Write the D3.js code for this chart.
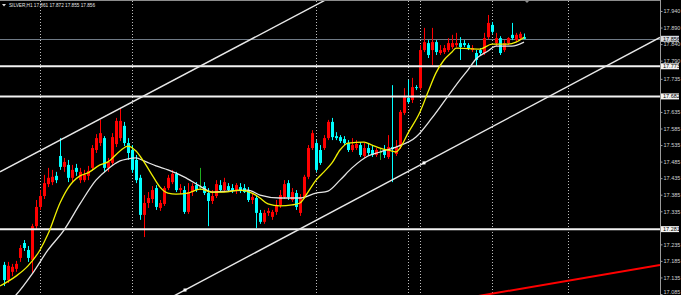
<!DOCTYPE html>
<html>
<head>
<meta charset="utf-8">
<script src="https://cdn.jsdelivr.net/npm/d3@7"></script>
<style>
  html, body { margin: 0; padding: 0; background: #000; }
  svg { display: block; }
  text { font-family: "Liberation Sans", Arial, sans-serif; }
</style>
</head>
<body>
<svg id="chart" width="681" height="295"></svg>
<script>
// SILVER H1 candles (index 0 = leftmost bar)
const opens = [17.173,17.127,17.152,17.161,17.194,17.239,17.218,17.188,17.290,17.348,
  17.381,17.417,17.423,17.442,17.502,17.469,17.475,17.436,17.466,17.429,
  17.429,17.442,17.466,17.520,17.541,17.556,17.466,17.481,17.538,17.556,
  17.593,17.541,17.520,17.490,17.436,17.324,17.360,17.372,17.405,17.345,
  17.357,17.405,17.423,17.448,17.399,17.399,17.333,17.393,17.414,17.408,
  17.411,17.390,17.366,17.381,17.414,17.399,17.411,17.405,17.396,17.408,
  17.405,17.399,17.369,17.375,17.330,17.303,17.330,17.318,17.333,17.354,
  17.378,17.420,17.369,17.390,17.330,17.378,17.439,17.526,17.541,17.520,
  17.526,17.556,17.605,17.562,17.559,17.553,17.541,17.520,17.526,17.535,
  17.502,17.526,17.520,17.505,17.514,17.520,17.499,17.529,17.508,17.529,
  17.632,17.677,17.671,17.710,17.707,17.822,17.843,17.822,17.846,17.813,
  17.816,17.822,17.831,17.837,17.843,17.843,17.837,17.822,17.813,17.822,
  17.813,17.861,17.898,17.843,17.858,17.822,17.843,17.868,17.852,17.858,
  17.861];
const highs = [17.182,17.182,17.176,17.185,17.233,17.248,17.230,17.297,17.369,17.399,
  17.445,17.466,17.460,17.454,17.556,17.496,17.490,17.475,17.478,17.466,
  17.460,17.472,17.535,17.568,17.611,17.562,17.496,17.571,17.617,17.647,
  17.605,17.556,17.535,17.505,17.445,17.384,17.393,17.411,17.414,17.369,
  17.411,17.445,17.460,17.454,17.417,17.411,17.420,17.420,17.423,17.466,
  17.423,17.405,17.399,17.429,17.429,17.436,17.420,17.417,17.420,17.420,
  17.417,17.408,17.390,17.384,17.339,17.339,17.345,17.339,17.369,17.399,
  17.429,17.429,17.405,17.399,17.387,17.445,17.535,17.580,17.550,17.535,
  17.565,17.611,17.617,17.574,17.565,17.562,17.550,17.556,17.550,17.544,
  17.541,17.538,17.532,17.526,17.526,17.535,17.565,17.716,17.550,17.641,
  17.707,17.732,17.738,17.716,17.837,17.889,17.852,17.889,17.852,17.837,
  17.837,17.858,17.868,17.874,17.861,17.852,17.843,17.837,17.822,17.828,
  17.874,17.928,17.907,17.874,17.864,17.852,17.861,17.904,17.874,17.877,
  17.872];
const lows = [17.109,17.118,17.139,17.152,17.182,17.215,17.182,17.149,17.281,17.339,
  17.372,17.408,17.414,17.420,17.460,17.454,17.423,17.423,17.442,17.420,
  17.423,17.429,17.457,17.511,17.532,17.454,17.454,17.472,17.529,17.547,
  17.532,17.490,17.451,17.420,17.309,17.257,17.345,17.360,17.339,17.336,
  17.351,17.399,17.417,17.393,17.387,17.327,17.327,17.381,17.393,17.399,
  17.384,17.290,17.357,17.375,17.393,17.393,17.393,17.390,17.387,17.390,
  17.390,17.363,17.357,17.284,17.297,17.297,17.321,17.309,17.324,17.345,
  17.372,17.369,17.363,17.339,17.321,17.372,17.432,17.520,17.454,17.475,
  17.520,17.550,17.550,17.550,17.541,17.535,17.514,17.514,17.520,17.499,
  17.496,17.502,17.499,17.499,17.490,17.496,17.493,17.423,17.502,17.523,
  17.626,17.659,17.662,17.701,17.701,17.816,17.798,17.777,17.807,17.807,
  17.810,17.816,17.825,17.831,17.792,17.831,17.822,17.816,17.771,17.807,
  17.807,17.855,17.871,17.834,17.807,17.816,17.837,17.852,17.846,17.852,
  17.855];
const closes = [17.127,17.170,17.167,17.176,17.224,17.224,17.194,17.290,17.348,17.381,
  17.420,17.436,17.439,17.429,17.469,17.484,17.436,17.460,17.454,17.454,
  17.445,17.457,17.526,17.556,17.571,17.466,17.484,17.559,17.608,17.608,
  17.541,17.511,17.460,17.429,17.324,17.360,17.375,17.399,17.348,17.360,
  17.405,17.436,17.448,17.399,17.405,17.333,17.393,17.411,17.399,17.408,
  17.390,17.366,17.381,17.417,17.399,17.423,17.399,17.399,17.414,17.396,
  17.393,17.369,17.378,17.330,17.303,17.330,17.336,17.333,17.354,17.384,
  17.417,17.378,17.393,17.348,17.378,17.439,17.526,17.571,17.460,17.481,
  17.556,17.605,17.559,17.556,17.547,17.541,17.520,17.535,17.538,17.505,
  17.526,17.511,17.505,17.520,17.514,17.505,17.529,17.523,17.529,17.635,
  17.680,17.665,17.710,17.707,17.822,17.846,17.807,17.846,17.816,17.822,
  17.828,17.843,17.843,17.843,17.831,17.837,17.828,17.828,17.792,17.813,
  17.858,17.904,17.877,17.858,17.813,17.843,17.858,17.858,17.868,17.871,
  17.856];

// moving averages, [bar index, price] read at sample points
const fastMA = [[-1,17.109],[3,17.139],[6,17.170],[9,17.218],[11,17.266],[14,17.360],
  [16,17.405],[19,17.442],[21,17.451],[24,17.475],[26,17.484],[29,17.517],[31,17.532],
  [33,17.517],[35,17.484],[37,17.445],[39,17.408],[41,17.390],[43,17.387],[46,17.390],
  [49,17.402],[52,17.393],[55,17.393],[59,17.399],[62,17.390],[64,17.375],[66,17.357],
  [69,17.351],[72,17.354],[74,17.360],[76,17.393],[78,17.429],[80,17.454],[82,17.481],
  [84,17.520],[86,17.541],[90,17.544],[92,17.535],[94,17.526],[97,17.517],[98,17.514],
  [99,17.526],[101,17.571],[104,17.635],[106,17.695],[108,17.753],[110,17.792],
  [112,17.816],[113,17.828],[119,17.825],[122,17.840],[126,17.840],[128,17.846],[130,17.861]];
const slowMA = [[1,17.058],[3,17.082],[7,17.145],[11,17.218],[15,17.278],[19,17.357],
  [23,17.429],[26,17.463],[29,17.487],[31,17.493],[33,17.496],[35,17.487],[38,17.472],
  [41,17.460],[45,17.439],[49,17.411],[52,17.393],[56,17.396],[61,17.399],[64,17.384],
  [69,17.375],[74,17.375],[78,17.390],[81,17.396],[84,17.429],[87,17.466],[91,17.502],
  [94,17.514],[98,17.529],[103,17.559],[107,17.617],[111,17.683],[114,17.732],
  [116,17.762],[118,17.795],[121,17.819],[123,17.834],[127,17.834],[130,17.846]];

const levels = [17.773, 17.682, 17.281];
const currentPrice = 17.856;
const channelUpper = [[-1, 17.454], [33, 17.671]];
const channelLower = [[45.25, 17.097], [105, 17.481]];
const redTrend = [[121.5, 17.085], [164, 17.173]];
const separators = [9, 32, 78, 101, 104, 122, 141];
const tickValues = [17.940, 17.890, 17.840, 17.790, 17.735, 17.635, 17.585, 17.535,
  17.485, 17.435, 17.385, 17.335, 17.235, 17.185, 17.135, 17.085];
const title = "SILVER,H1  17.861 17.872 17.855 17.856";

const W = 681, H = 295, plotRight = 660;
const svg = d3.select("#chart");
svg.append("rect").attr("width", W).attr("height", H).attr("fill", "#000");

const x = d3.scaleLinear().domain([0, 164]).range([4, plotRight]);
const y = d3.scaleLinear().domain([17.085, 17.940]).range([294, 11]);

svg.append("clipPath").attr("id", "plot")
  .append("rect").attr("width", plotRight).attr("height", H);
const plot = svg.append("g").attr("clip-path", "url(#plot)");

// top border
svg.append("line").attr("x1", 0).attr("x2", plotRight).attr("y1", 0.5).attr("y2", 0.5)
  .attr("stroke", "#8c8c8c");

// period separators
plot.selectAll("line.sep").data(separators).join("line")
  .attr("class", "sep")
  .attr("x1", (d) => x(d) + 0.5).attr("x2", (d) => x(d) + 0.5)
  .attr("y1", 1).attr("y2", H)
  .attr("stroke", "#bdbdbd").attr("stroke-dasharray", "1,2");

// current price line
plot.append("line").attr("x1", 0).attr("x2", plotRight)
  .attr("y1", Math.round(y(currentPrice)) + 0.5).attr("y2", Math.round(y(currentPrice)) + 0.5)
  .attr("stroke", "#6f7a86");

const candles = opens.map((o, i) => ({ i, o, h: highs[i], l: lows[i], c: closes[i] }));
const candleColor = (d) => d.c > d.o ? "#ff0000" : d.c < d.o ? "#00ffff" : "#1fae1f";

const bars = plot.append("g");
bars.selectAll("line").data(candles).join("line")
  .attr("x1", (d) => x(d.i) + 0.5).attr("x2", (d) => x(d.i) + 0.5)
  .attr("y1", (d) => y(d.h)).attr("y2", (d) => y(d.l))
  .attr("stroke", candleColor);
bars.selectAll("rect").data(candles).join("rect")
  .attr("x", (d) => x(d.i) - 1)
  .attr("width", 3)
  .attr("y", (d) => y(Math.max(d.o, d.c)))
  .attr("height", (d) => Math.max(1, Math.abs(y(d.o) - y(d.c))))
  .attr("fill", candleColor);

// horizontal levels
plot.selectAll("line.level").data(levels).join("line")
  .attr("class", "level")
  .attr("x1", 0).attr("x2", plotRight)
  .attr("y1", (d) => y(d)).attr("y2", (d) => y(d))
  .attr("stroke", "#f2f2f2").attr("stroke-width", 2);

// moving averages
const maLine = d3.line().x((d) => x(d[0])).y((d) => y(d[1])).curve(d3.curveMonotoneX);
plot.append("path").attr("d", maLine(slowMA))
  .attr("fill", "none").attr("stroke", "#e4e4e4").attr("stroke-width", 1.3);
plot.append("path").attr("d", maLine(fastMA))
  .attr("fill", "none").attr("stroke", "#f0f000").attr("stroke-width", 1.3);

// trend lines, extended across the plot
function trendLine(pts, color, width) {
  const [x1, y1] = [x(pts[0][0]), y(pts[0][1])];
  const [x2, y2] = [x(pts[1][0]), y(pts[1][1])];
  const slope = (y2 - y1) / (x2 - x1);
  plot.append("line")
    .attr("x1", 0).attr("y1", y1 + (0 - x1) * slope)
    .attr("x2", plotRight).attr("y2", y1 + (plotRight - x1) * slope)
    .attr("stroke", color).attr("stroke-width", width);
}
trendLine(channelUpper, "#e8e8e8", 1.4);
trendLine(channelLower, "#e8e8e8", 1.4);
trendLine(redTrend, "#ff0000", 2);

plot.selectAll("rect.anchor").data(channelLower).join("rect")
  .attr("class", "anchor")
  .attr("x", (d) => x(d[0]) - 1.5).attr("y", (d) => y(d[1]) - 1.5)
  .attr("width", 3).attr("height", 3).attr("fill", "#fff");

// shift marker
svg.append("path").attr("d", "M524,0 L530,0 L527,3 Z").attr("fill", "#8c8c8c");

// price axis
const axis = svg.append("g").attr("transform", `translate(${plotRight + 0.5},0)`)
  .call(d3.axisRight(y).tickValues(tickValues).tickFormat(d3.format(".3f")).tickSize(2).tickPadding(1));
axis.select(".domain").attr("stroke", "#9a9a9a").attr("d", `M0,0V${H}`);
axis.selectAll(".tick line").attr("stroke", "#9a9a9a");
axis.selectAll(".tick text").attr("fill", "#d0d0d0")
  .style("font-size", "5.5px").style("font-family", "Liberation Sans, Arial, sans-serif")
  .attr("dy", (d) => d === tickValues[tickValues.length - 1] ? "-0.1em" : "0.32em");

// highlighted price labels
const marked = levels.concat([currentPrice]);
const tags = svg.append("g").selectAll("g").data(marked).join("g")
  .attr("transform", (d) => `translate(${plotRight + 1},${y(d)})`);
tags.append("rect").attr("x", 0).attr("y", -3).attr("width", 18).attr("height", 6)
  .attr("fill", (d) => d === currentPrice ? "#d8dde3" : "#f4f4f4");
tags.append("text").attr("x", 2).attr("y", 2)
  .attr("font-size", "5.5px").attr("fill", "#000")
  .text((d) => d3.format(".3f")(d));

// title
svg.append("path").attr("d", "M2,4 L6,4 L4,6.5 Z").attr("fill", "#e0e0e0");
svg.append("text").attr("x", 9).attr("y", 7)
  .attr("font-size", "5.5px").attr("fill", "#e6e6e6")
  .attr("textLength", 86).attr("lengthAdjust", "spacingAndGlyphs")
  .text(title);
</script>
</body>
</html>
